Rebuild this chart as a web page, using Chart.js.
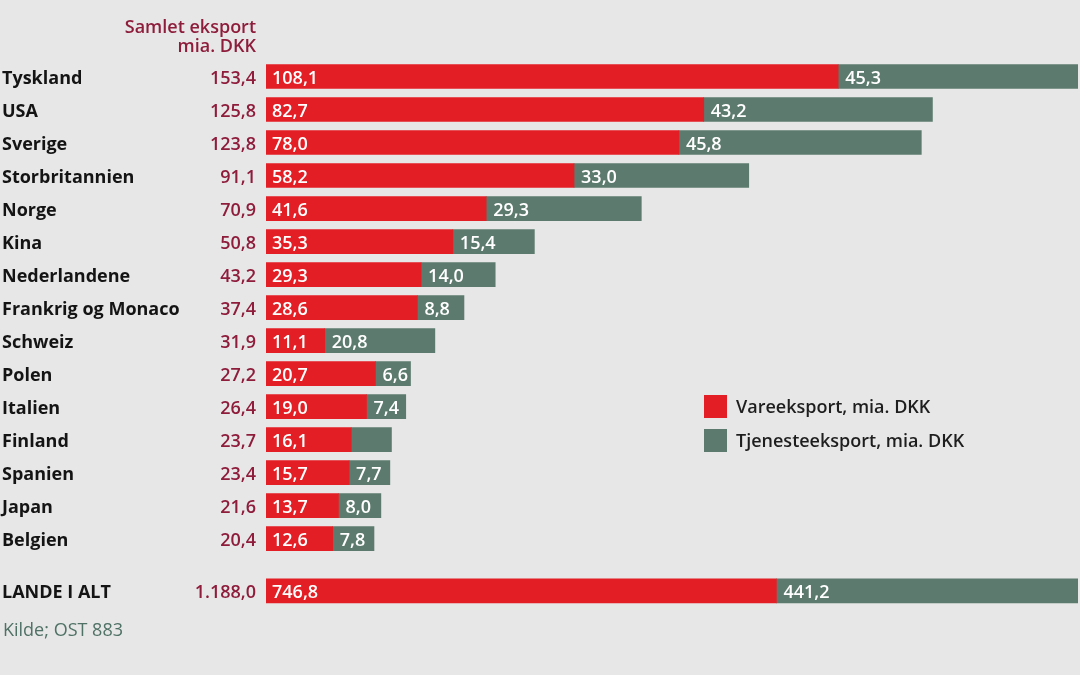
<!DOCTYPE html>
<html>
<head>
<meta charset="utf-8">
<script src="https://cdn.jsdelivr.net/npm/chart.js@4"></script>
<style>
html,body{margin:0;padding:0;background:#e7e7e7;}
#wrap{width:1080px;height:675px;position:relative;}
</style>
</head>
<body>
<div id="wrap"><canvas id="c" width="1080" height="675"></canvas></div>
<script>
const countries = ["Tyskland","USA","Sverige","Storbritannien","Norge","Kina","Nederlandene","Frankrig og Monaco","Schweiz","Polen","Italien","Finland","Spanien","Japan","Belgien"];
const totalLabels = ["153,4","125,8","123,8","91,1","70,9","50,8","43,2","37,4","31,9","27,2","26,4","23,7","23,4","21,6","20,4"];
const vareValues = [108.1,82.7,78.0,58.2,41.6,35.3,29.3,28.6,11.1,20.7,19.0,16.1,15.7,13.7,12.6];
const tjenesteValues = [45.3,43.2,45.8,33.0,29.3,15.4,14.0,8.8,20.8,6.6,7.4,7.6,7.7,8.0,7.8];
const tjenesteShown = [true,true,true,true,true,true,true,true,true,true,true,false,true,true,true];
const grandLabel = "LANDE I ALT";
const grandTotalLabel = "1.188,0";
const grandVare = 746.8;
const grandTjeneste = 441.2;
const seriesNames = ["Vareeksport, mia. DKK","Tjenesteeksport, mia. DKK"];
const headerLines = ["Samlet eksport","mia. DKK"];
const sourceText = "Kilde; OST 883";

const RED = "#e31e24", GREY = "#5c7b6e", TOTALC = "#8e1c3b", FONT = "'Open Sans', sans-serif";
const grandRow = countries.length + 0.58;
const fmt = v => v.toFixed(1).replace('.', ',');

const labelPlugin = {
  id: 'labels',
  afterDatasetsDraw(chart) {
    const ctx = chart.ctx, y = chart.scales.y, x = chart.scales.x, x2 = chart.scales.x2;
    ctx.save();
    ctx.textBaseline = 'middle';
    // header
    ctx.fillStyle = TOTALC; ctx.textAlign = 'right';
    ctx.font = "600 18px " + FONT;
    ctx.fillText(headerLines[0], 256, 28);
    ctx.fillText(headerLines[1], 256, 47);
    const rows = countries.map((c, i) => ({name: c, tot: totalLabels[i], pos: i, v: vareValues[i], t: tjenesteValues[i], show: tjenesteShown[i], sc: x}));
    rows.push({name: grandLabel, tot: grandTotalLabel, pos: grandRow, v: grandVare, t: grandTjeneste, show: true, sc: x2});
    rows.forEach(r => {
      const py = y.getPixelForValue(r.pos) + 2;
      ctx.textAlign = 'left'; ctx.fillStyle = '#141414';
      ctx.font = "700 18px " + FONT;
      ctx.fillText(r.name, 2, py);
      ctx.textAlign = 'right'; ctx.fillStyle = TOTALC;
      ctx.font = "600 18px " + FONT;
      ctx.fillText(r.tot, 256, py);
      ctx.textAlign = 'left'; ctx.fillStyle = '#ffffff';
      ctx.font = "600 18px " + FONT;
      ctx.fillText(fmt(r.v), r.sc.getPixelForValue(0) + 6, py);
      if (r.show) ctx.fillText(fmt(r.t), r.sc.getPixelForValue(r.v) + 7, py);
    });
    // legend
    const leg = [[RED, seriesNames[0], 407], [GREY, seriesNames[1], 441]];
    leg.forEach(([col, txt, ly]) => {
      ctx.fillStyle = col; ctx.fillRect(704, ly - 12, 23, 23);
      ctx.fillStyle = '#1e1e1e'; ctx.textAlign = 'left';
      ctx.font = "600 18px " + FONT;
      ctx.fillText(txt, 736, ly + 1);
    });
    // source
    ctx.fillStyle = '#4f7166'; ctx.font = "400 18px " + FONT;
    ctx.fillText(sourceText, 3, 631);
    ctx.restore();
  }
};

new Chart(document.getElementById('c'), {
  type: 'bar',
  data: {
    datasets: [
      {label: seriesNames[0], data: countries.map((c, i) => ({x: vareValues[i], y: i})), backgroundColor: RED, xAxisID: 'x', barThickness: 24},
      {label: seriesNames[1], data: countries.map((c, i) => ({x: tjenesteValues[i], y: i})), backgroundColor: GREY, xAxisID: 'x', barThickness: 24},
      {label: seriesNames[0], data: [{x: grandVare, y: grandRow}], backgroundColor: RED, xAxisID: 'x2', barThickness: 24},
      {label: seriesNames[1], data: [{x: grandTjeneste, y: grandRow}], backgroundColor: GREY, xAxisID: 'x2', barThickness: 24}
    ]
  },
  options: {
    indexAxis: 'y',
    responsive: false,
    animation: false,
    layout: {padding: {left: 266, right: 2, top: 60, bottom: 67}},
    scales: {
      x: {type: 'linear', stacked: true, offset: false, min: 0, max: vareValues[0] + tjenesteValues[0], display: false},
      x2: {type: 'linear', stacked: true, offset: false, min: 0, max: grandVare + grandTjeneste, display: false},
      y: {type: 'linear', stacked: true, offset: false, reverse: true, min: -0.5, max: 16.1, display: false}
    },
    plugins: {legend: {display: false}, tooltip: {enabled: false}}
  },
  plugins: [labelPlugin]
});
</script>
</body>
</html>
